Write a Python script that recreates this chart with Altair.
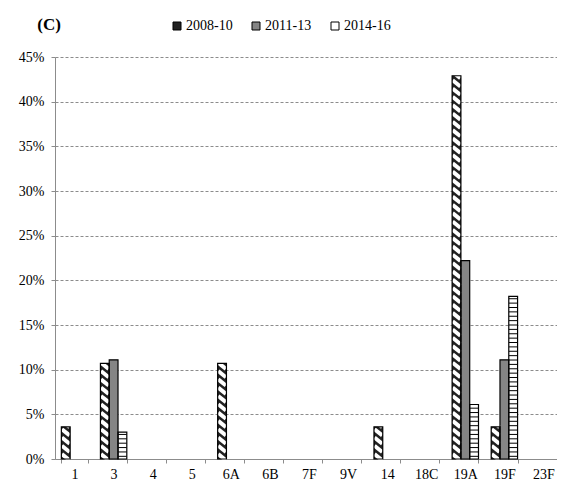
import altair as alt
import pandas as pd

categories = ["1", "3", "4", "5", "6A", "6B", "7F", "9V", "14", "18C", "19A", "19F", "23F"]
series = ["2008-10", "2011-13", "2014-16"]
pct_2008_10 = [3.6, 10.7, 0, 0, 10.7, 0, 0, 0, 3.6, 0, 42.9, 3.6, 0]
pct_2011_13 = [0, 11.1, 0, 0, 0, 0, 0, 0, 0, 0, 22.2, 11.1, 0]
pct_2014_16 = [0, 3.0, 0, 0, 0, 0, 0, 0, 0, 0, 6.1, 18.2, 0]
y_ticks = [0, 5, 10, 15, 20, 25, 30, 35, 40, 45]

rows = []
for i, cat in enumerate(categories):
    for s, vals in zip(series, [pct_2008_10, pct_2011_13, pct_2014_16]):
        if vals[i] > 0:
            rows.append({"cat": cat, "series": s, "value": vals[i]})
df = pd.DataFrame(rows)

# hatch decoration derived from the bar values
diag_rows, horiz_rows = [], []
for r in rows:
    if r["series"] == "2008-10":
        y = 0.2
        while y - 0.35 < r["value"]:
            diag_rows.append({"cat": r["cat"], "series": r["series"], "value": y})
            y += 0.93
    if r["series"] == "2014-16":
        y = 0.3
        while y <= r["value"] - 0.25:
            horiz_rows.append({"cat": r["cat"], "series": r["series"], "value": y})
            y += 0.49
df_diag = pd.DataFrame(diag_rows)
df_horiz = pd.DataFrame(horiz_rows)

FONT = "Liberation Serif"

x_enc = alt.X(
    "cat:N",
    scale=alt.Scale(domain=categories, range=[0, 508], paddingInner=0.325, paddingOuter=0.1625),
    axis=alt.Axis(title=None, labelAngle=0, tickBand="extent", grid=False,
                  labelPadding=4, tickSize=4),
)
xo_enc = alt.XOffset("series:N", scale=alt.Scale(domain=series, paddingInner=0, paddingOuter=0))
y_enc = alt.Y(
    "value:Q",
    scale=alt.Scale(domain=[0, 45], nice=False),
    axis=alt.Axis(title=None, values=y_ticks, labelExpr="datum.value + '%'",
                  grid=True, gridDash=[3, 2], gridColor="#8c8c8c", gridWidth=1,
                  tickSize=4, labelPadding=7),
)

bars = alt.Chart(df).mark_bar().encode(
    x=x_enc, xOffset=xo_enc, y=y_enc,
    fill=alt.Fill(
        "series:N",
        scale=alt.Scale(domain=series, range=["#222222", "#858585", "white"]),
        legend=alt.Legend(
            orient="none", legendX=115, legendY=-38, direction="horizontal", title=None,
            symbolType="square", symbolSize=64, symbolStrokeColor="black",
            symbolStrokeWidth=1, symbolOpacity=1, labelFont=FONT, labelFontSize=14,
            labelColor="black", columnPadding=16, labelOffset=2, padding=0,
        ),
    ),
)

diag = alt.Chart(df_diag).mark_point(
    shape="M-1,-0.8L1,0.8", size=60, filled=False, color="white", strokeWidth=4, opacity=1
).encode(x=x_enc, xOffset=xo_enc, y=y_enc)

horiz = alt.Chart(df_horiz).mark_tick(
    orient="horizontal", color="black", thickness=1, size=8.5, opacity=1
).encode(x=x_enc, xOffset=xo_enc, y=y_enc)

outline = alt.Chart(df).mark_bar(fillOpacity=0, stroke="black", strokeWidth=1.2).encode(
    x=x_enc, xOffset=xo_enc, y=y_enc
)

chart = alt.layer(bars, diag, horiz, outline).properties(
    width=502,
    height=402,
    autosize="none",
    padding={"left": 47, "top": 49, "right": 0, "bottom": 23},
    title=alt.TitleParams(
        text="(C)", anchor="start", font=FONT, fontSize=17,
        fontWeight="bold", color="black", dx=19, offset=-15,
    ),
).configure_view(strokeWidth=0).configure_axis(
    labelFont=FONT, labelFontSize=14, labelColor="black",
    domainColor="#8c8c8c", tickColor="#8c8c8c",
)

chart.save("out.html", embed_options={"renderer": "svg", "actions": False})
